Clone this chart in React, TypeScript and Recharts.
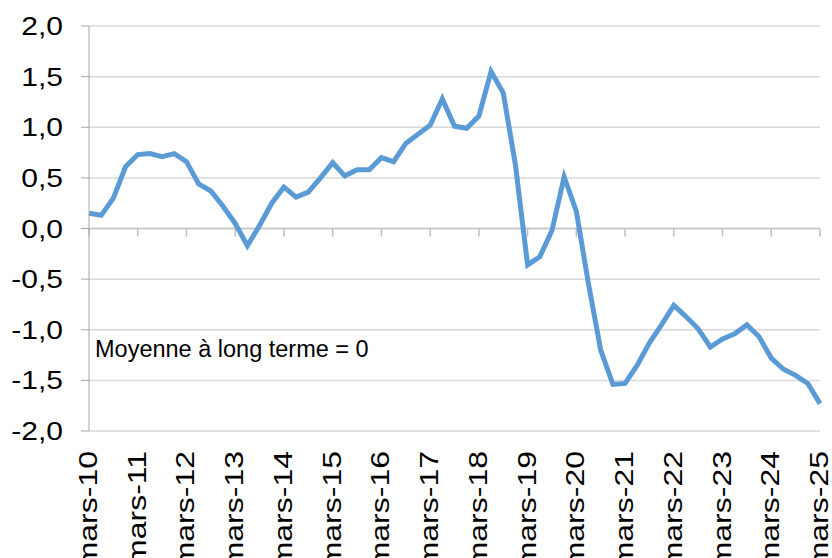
import { LineChart, Line, XAxis, YAxis, CartesianGrid, ReferenceLine } from 'recharts';

// trimestres de mars-10 à mars-25
const years = [10, 11, 12, 13, 14, 15, 16, 17, 18, 19, 20, 21, 22, 23, 24, 25];
const months = ['mars', 'juin', 'sept', 'déc'];

const labels: string[] = [];
years.forEach((y) => {
  months.forEach((m) => {
    if (y < 25 || m === 'mars') labels.push(`${m}-${y}`);
  });
});

const values = [
  0.15, 0.13, 0.3, 0.61, 0.73, 0.74, 0.71, 0.74, 0.66, 0.44, 0.37, 0.22, 0.05, -0.17, 0.03, 0.25,
  0.41, 0.31, 0.36, 0.5, 0.65, 0.52, 0.58, 0.58, 0.7, 0.66, 0.84, 0.93, 1.02, 1.28, 1.01, 0.99,
  1.11, 1.55, 1.34, 0.63, -0.36, -0.28, -0.02, 0.51, 0.17, -0.55, -1.2, -1.54, -1.53, -1.35, -1.13,
  -0.95, -0.76, -0.87, -0.99, -1.17, -1.09, -1.04, -0.95, -1.07, -1.28, -1.39, -1.45, -1.53, -1.73,
];

const yTicks = [-2, -1.5, -1, -0.5, 0, 0.5, 1, 1.5, 2];
const yearTicks = labels.filter((l) => l.startsWith('mars'));

const data = labels.map((label, i) => ({ label, value: values[i] }));

const FONT = '"Liberation Sans", Arial, sans-serif';

const fmt = (v: number) => v.toFixed(1).replace('.', ',');

const YTick = (props: any) => {
  const { x, y, payload } = props;
  return (
    <text
      transform={`translate(${x},${y}) scale(1.2,1)`}
      textAnchor="end"
      dy="0.36em"
      fontSize={25}
      fontFamily={FONT}
      fill="#000"
    >
      {fmt(payload.value)}
    </text>
  );
};

const XTick = (props: any) => {
  const { x, y, payload } = props;
  return (
    <text
      transform={`translate(${x + 8},${y}) scale(0.78,1) rotate(-90)`}
      textAnchor="end"
      fontSize={32}
      fontFamily={FONT}
      fill="#000"
    >
      {payload.value}
    </text>
  );
};

export default function App() {
  return (
    <div style={{ position: 'absolute', left: 0, top: 0, width: 832, height: 558, background: '#fff', overflow: 'hidden' }}>
      <LineChart width={832} height={558} data={data} margin={{ top: 26, right: 12, left: 0, bottom: 0 }}>
        <CartesianGrid horizontal vertical={false} stroke="#d9d9d9" strokeWidth={1.5} />
        <XAxis
          dataKey="label"
          interval={3}
          height={127}
          axisLine={false}
          tickLine={false}
          tickSize={0}
          tickMargin={20}
          tick={XTick}
        />
        <YAxis
          domain={[-2, 2]}
          ticks={yTicks}
          width={89}
          interval={0}
          stroke="#a6a6a6"
          tickSize={8}
          tickMargin={18}
          tick={YTick}
        />
        <ReferenceLine y={0} stroke="#c4c4c4" strokeWidth={1.5} />
        {yearTicks.map((l) => (
          <ReferenceLine
            key={l}
            segment={[
              { x: l, y: 0 },
              { x: l, y: -0.08 },
            ]}
            stroke="#bfbfbf"
            strokeWidth={1.5}
          />
        ))}
        <Line
          type="linear"
          dataKey="value"
          stroke="#5b9bd5"
          strokeWidth={5}
          dot={false}
          isAnimationActive={false}
        />
      </LineChart>
      <div
        style={{
          position: 'absolute',
          left: 95,
          top: 338,
          fontSize: 23.5,
          lineHeight: 1,
          fontFamily: FONT,
          color: '#000',
          whiteSpace: 'nowrap',
        }}
      >
        Moyenne à long terme = 0
      </div>
    </div>
  );
}
